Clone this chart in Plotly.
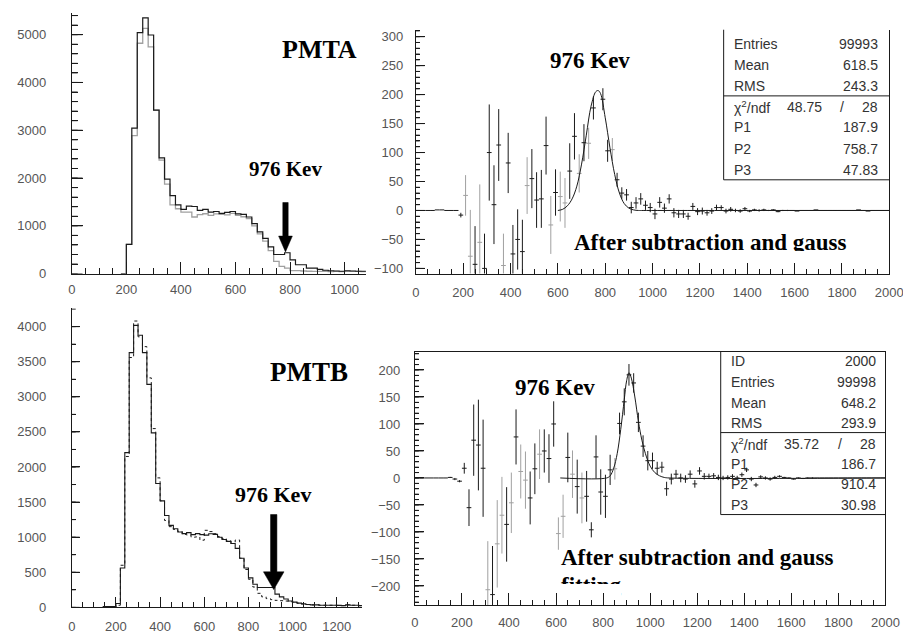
import plotly.graph_objects as go

W, H = 911, 636

# ---------------- data ----------------
p1_bin_lo = list(range(180, 1061, 20))
p1_black = [0, 613, 3044, 5041, 5351, 4993, 3423, 2424, 1977, 1632,
            1439, 1343, 1412, 1405, 1322, 1343, 1288, 1300, 1260, 1280,
            1300, 1250, 1240, 1185, 1047, 874, 736, 560, 400, 400,
            437, 289, 186, 186, 117, 117, 90, 70, 60, 55,
            50, 60, 55, 50, 50]
p1_gray = [0, 613, 2886, 4821, 5131, 4745, 3423, 2376, 1873, 1439,
           1357, 1288, 1288, 1185, 1233, 1253, 1219, 1250, 1240, 1230,
           1260, 1220, 1190, 1150, 1000, 830, 680, 480, 255, 152,
           117, 62, 62, 55, 50, 48, 45, 50, 40, 45,
           40, 50, 45, 45, 40]

p3_bin_lo = list(range(140, 1301, 20))
p3_solid = [10, 10, 10, 56, 560, 2205, 3630, 4018, 3878, 3630,
            3177, 2486, 1766, 1518, 1308, 1168, 1121, 1074, 1051, 1065,
            1037, 1051, 1037, 1030, 1050, 1040, 1000, 967, 940, 910,
            840, 700, 560, 420, 330, 283, 283, 283, 283, 189,
            150, 120, 90, 75, 60, 50, 40, 35, 35, 30,
            30, 30, 30, 28, 25, 35, 30, 30, 25]
p3_dashed = [0, 0, 0, 30, 600, 2150, 3560, 4080, 3855, 3715,
             3270, 2547, 1845, 1518, 1238, 1150, 1110, 1080, 1040, 1030,
             1000, 1004, 957, 1098, 1080, 1050, 1010, 980, 950, 930,
             960, 700, 540, 400, 290, 200, 150, 125, 110, 100,
             95, 90, 80, 70, 60, 50, 40, 35, 35, 30,
             30, 30, 30, 28, 25, 35, 30, 30, 25]

p2_centers = list(range(10, 2000, 20))
p2_vals = [0, 0, 0, 0, 1, 1, 0, 0, 0,
           -8, 26, -79, -93, -55, -100, 100, 10, 113, -95,
           82, -75, -50, -71, 43, 55, 18, 20, 112, -25,
           31, 24, 13, 68, 128, 64, 117, 116, 177, None,
           192, 103, 105, 53, 30, 27, 5, 13, 20, 9,
           5, -6, 14, 4, 20, -4, -6, -6, -10, 7,
           -2, -1, -4, -1, 5, 5, -1, 2, 0, -1,
           3, -1, 1, 0, 1, 0, 1, -2, 0, 0,
           0, -1, 0, 0, 0, 1, 0, 0, 0, 0,
           0, 0, 0, 0, 1, 0, -1, 0, 0, 0, 0]
p2_errs = [0, 0, 0, 0, 0, 0, 0, 0, 0,
           4, 35, 80, 66, 100, 60, 83, 68, 62, 55,
           52, 50, 52, 55, 49, 51, 48, 50, 50, 50,
           40, 43, 43, 48, 40, 33, 32, 27, 20, 0,
           19, 19, 20, 12, 10, 10, 10, 10, 10, 8,
           8, 9, 9, 8, 8, 8, 7, 7, 6, 6,
           6, 6, 5, 5, 5, 4, 4, 4, 3, 3,
           3, 2, 2, 2, 2, 1, 1, 1, 1, 1,
           0, 0, 0, 0, 0, 0, 0, 0, 0, 0,
           0, 0, 0, 0, 0, 0, 0, 0, 0, 0, 0]
p2_gray_bins = [210, 230, 270, 370, 470, 570, 610, 630, 690, 730, 830]
p2_fit_x = [600, 620, 640, 660, 680, 700, 720, 740, 760, 770, 780, 800,
            820, 840, 860, 880, 900, 920, 940, 960, 2000]
p2_fit_y = [0, 2, 8, 20, 42, 80, 130, 180, 205, 207, 202, 160,
            108, 62, 30, 12, 4, 1, 0, 0, 0]

p4_centers = list(range(10, 2000, 20))
p4_vals = [0, 0, 0, 0, 0, 0, 0, 1, -2, -6,
           18, -55, 70, 61, 18, -207, -216, -122, -69, -86,
           -46, 76, 12, -4, -37, 17, 44, 50, 36, 100,
           -103, -71, 38, 7, -16, -37, -34, -96, 39, -26,
           -34, 15, 17, 101, 141, 191, 176, 103, 59, 32,
           32, 18, 20, -20, -2, 7, 0, -2, 7, -11,
           13, 3, 3, 4, 1, 0, 1, 3, 0, 6,
           15, -2, -13, 2, 0, -2, 1, 3, 1, 0,
           -2, 0, -1, 0, 0, 0, 0, 0, 0, 0,
           0, 0, 0, 0, 0, 0, 0, 0, 0, 0]
p4_errs = [0, 0, 0, 0, 0, 0, 0, 1, 2, 2,
           10, 34, 66, 84, 90, 90, 90, 81, 71, 69,
           56, 51, 50, 53, 49, 47, 46, 40, 45, 42,
           30, 40, 46, 44, 50, 47, 47, 14, 40, 42,
           40, 28, 20, 20, 25, 20, 18, 18, 20, 18,
           15, 12, 10, 13, 10, 8, 8, 7, 7, 7,
           7, 6, 5, 5, 5, 4, 4, 4, 4, 4,
           4, 4, 4, 3, 3, 3, 3, 2, 1, 1,
           1, 1, 1, 1, 1, 0, 0, 0, 0, 0,
           0, 0, 0, 0, 0, 0, 0, 0, 0, 0]
p4_gray_bins = [310, 350, 370, 410, 450, 470, 530, 610, 630, 670, 710, 850]
p4_fit_x = [618, 815, 830, 845, 860, 875, 890, 900, 910, 920, 935, 950,
            965, 980, 1000, 1020, 1040, 1060, 1080, 2000]
p4_fit_y = [0, 0, 4, 18, 45, 90, 145, 180, 195, 185, 150, 105,
            70, 45, 22, 10, 4, 1, 0, 0]

p2_stat_names = ["Entries", "Mean", "RMS", "χ<sup>2</sup>/ndf", "P1", "P2", "P3"]
p2_stat_vals = ["99993", "618.5", "243.3", "28", "187.9", "758.7", "47.83"]
p2_chi2 = "48.75"
p4_stat_names = ["ID", "Entries", "Mean", "RMS", "χ<sup>2</sup>/ndf", "P1", "P2", "P3"]
p4_stat_vals = ["2000", "99998", "648.2", "293.9", "28", "186.7", "910.4", "30.98"]
p4_chi2 = "35.72"

# ---------------- helpers ----------------
def px(x):
    return x / W


def py(y):
    return 1 - y / H


BLK = "#1a1a1a"
GRY = "#a0a0a0"
TICKFONT = dict(family="Liberation Sans", size=13, color="#555")


def hist_xy(lo, vals):
    xs = list(lo) + [lo[-1] + 20]
    ys = list(vals) + [vals[-1]]
    return xs, ys


def eb_traces(centers, vals, errs, gray_bins, xa, ya):
    out = []
    for col, want_gray in ((BLK, False), (GRY, True)):
        xs, ys, es = [], [], []
        for c, v, e in zip(centers, vals, errs):
            if v is None:
                continue
            if (c in gray_bins) == want_gray:
                xs.append(c)
                ys.append(v)
                es.append(e)
        out.append(go.Scatter(
            x=xs, y=ys, mode="markers", marker=dict(size=1, color="rgba(0,0,0,0)"),
            error_y=dict(type="data", array=es, visible=True, width=0, thickness=1, color=col),
            error_x=dict(type="constant", value=10, visible=True, width=0, thickness=1, color=col),
            xaxis=xa, yaxis=ya, showlegend=False, hoverinfo="skip"))
    return out


fig = go.Figure()

x, y = hist_xy(p1_bin_lo, p1_gray)
fig.add_trace(go.Scatter(x=x, y=y, mode="lines", line=dict(shape="hv", color=GRY, width=1.3),
                         xaxis="x", yaxis="y", showlegend=False, hoverinfo="skip"))
x, y = hist_xy(p1_bin_lo, p1_black)
fig.add_trace(go.Scatter(x=x, y=y, mode="lines", line=dict(shape="hv", color=BLK, width=1.2),
                         xaxis="x", yaxis="y", showlegend=False, hoverinfo="skip"))

x, y = hist_xy(p3_bin_lo, p3_dashed)
fig.add_trace(go.Scatter(x=x, y=y, mode="lines", line=dict(shape="hv", color=BLK, width=1, dash="3px,3px"),
                         xaxis="x3", yaxis="y3", showlegend=False, hoverinfo="skip"))
x, y = hist_xy(p3_bin_lo, p3_solid)
fig.add_trace(go.Scatter(x=x, y=y, mode="lines", line=dict(shape="hv", color=BLK, width=1.1),
                         xaxis="x3", yaxis="y3", showlegend=False, hoverinfo="skip"))

for t in eb_traces(p2_centers, p2_vals, p2_errs, p2_gray_bins, "x2", "y2"):
    fig.add_trace(t)
fig.add_trace(go.Scatter(x=p2_fit_x, y=p2_fit_y, mode="lines", line=dict(color=BLK, width=1, shape="spline"),
                         xaxis="x2", yaxis="y2", showlegend=False, hoverinfo="skip"))

for t in eb_traces(p4_centers, p4_vals, p4_errs, p4_gray_bins, "x4", "y4"):
    fig.add_trace(t)
fig.add_trace(go.Scatter(x=p4_fit_x, y=p4_fit_y, mode="lines", line=dict(color=BLK, width=1, shape="spline"),
                         xaxis="x4", yaxis="y4", showlegend=False, hoverinfo="skip"))


def axis(dom, rng, dtick, minor_dtick, ticklen, mticklen, standoff, mirror=False, anchor=None):
    return dict(domain=dom, range=rng, dtick=dtick, tick0=0, showline=True, linecolor=BLK, linewidth=1,
                mirror=mirror, ticks="inside", ticklen=ticklen, tickwidth=1, tickcolor=BLK,
                minor=dict(dtick=minor_dtick, ticks="inside", ticklen=mticklen, tickcolor=BLK, tickwidth=1,
                           showgrid=False),
                showgrid=False, zeroline=False, tickfont=TICKFONT, anchor=anchor, fixedrange=True,
                ticklabelstandoff=standoff)


PANEL_X = {"x": (61, 361), "x2": (412, 895), "x3": (61, 357), "x4": (411, 891)}
Y_RANGES = {"y": (0, 5455), "y2": (-109, 312), "y3": (0, 4263), "y4": (-236, 234)}

layout = dict(
    width=W, height=H, margin=dict(l=0, r=0, t=0, b=0),
    paper_bgcolor="white", plot_bgcolor="rgba(0,0,0,0)", showlegend=False,
    xaxis=axis([px(61), px(361)], [0, 1078], 200, 50, 12, 6, 4, anchor="y"),
    yaxis=axis([py(269), py(5)], list(Y_RANGES["y"]), 1000, 200, 11, 6, 22, anchor="x"),
    xaxis2=axis([px(412), px(895)], [0, 2000], 200, 50, 11, 5, 7, anchor="y2"),
    yaxis2=axis([py(269), py(22)], list(Y_RANGES["y2"]), 50, 10, 9, 4, 9, mirror=True, anchor="x2"),
    xaxis3=axis([px(61), px(357)], [0, 1314], 200, 50, 10, 5, 7, anchor="y3"),
    yaxis3=axis([py(607), py(304)], list(Y_RANGES["y3"]), 500, 250, 8, 4, 22, anchor="x3"),
    xaxis4=axis([px(411), px(891)], [0, 2000], 200, 50, 12, 5, 5, mirror=True, anchor="y4"),
    yaxis4=axis([py(605), py(348)], list(Y_RANGES["y4"]), 50, 10, 9, 4, 11, mirror=True, anchor="x4"),
)
fig.update_layout(**layout)

ann = []


def label(xp, yp, text, size, xanchor="center", family="Liberation Serif", color="black", bold=True):
    ann.append(dict(x=px(xp), y=py(yp), xref="paper", yref="paper", text=("<b>%s</b>" % text) if bold else text,
                    showarrow=False, xanchor=xanchor, yanchor="middle",
                    font=dict(family=family, size=size, color=color)))


def cover(x0, y0, x1, y1):
    # white box hiding the part of a caption that the original plot clips away
    ann.append(dict(x=px(x0), y=py(y0), xref="paper", yref="paper", text=" ", showarrow=False,
                    xanchor="left", yanchor="top", width=x1 - x0, height=y1 - y0, borderpad=0,
                    borderwidth=0, bgcolor="white", font=dict(size=1)))


label(314, 42, "PMTA", 26)
label(279, 163, "976 Kev", 21)
label(590, 53, "976 Kev", 23)
label(303, 369, "PMTB", 27)
label(266, 493, "976 Kev", 22)
label(554, 384, "976 Kev", 23)

label(571, 237, "After subtraction and gauss", 23, xanchor="left")
label(558, 557, "After subtraction and gauss", 23, xanchor="left")
label(558, 585, "fitting", 23, xanchor="left")
cover(565, 246, 850, 252)
cover(555, 583.5, 621, 592.5)
cover(606, 592.5, 621, 599)

SF = "Liberation Sans"
SC = "#333"
p2_rows = [36, 58, 79, 100, 121, 143, 164]
for name, val, yy in zip(p2_stat_names, p2_stat_vals, p2_rows):
    label(735, yy, name, 14, xanchor="left", family=SF, color=SC, bold=False)
    label(886, yy, val, 14, xanchor="right", family=SF, color=SC, bold=False)
label(828, 100, p2_chi2, 14, xanchor="right", family=SF, color=SC, bold=False)
label(847, 100, "/", 14, family=SF, color=SC, bold=False)

p4_rows = [358, 379, 400, 420, 442, 462, 482, 503]
for name, val, yy in zip(p4_stat_names, p4_stat_vals, p4_rows):
    label(731, yy, name, 14, xanchor="left", family=SF, color=SC, bold=False)
    label(883, yy, val, 14, xanchor="right", family=SF, color=SC, bold=False)
label(825, 442, p4_chi2, 14, xanchor="right", family=SF, color=SC, bold=False)
label(845, 442, "/", 14, family=SF, color=SC, bold=False)

fig.update_layout(annotations=ann)

shapes = []


def seg(x0, y0, x1, y1, w=1):
    shapes.append(dict(type="line", xref="paper", yref="paper", x0=px(x0), y0=py(y0), x1=px(x1), y1=py(y1),
                       line=dict(color=BLK, width=w)))


seg(726, 22, 726, 174)
seg(726, 174, 895, 174)
seg(726, 89, 895, 89)
seg(723, 348, 723, 513)
seg(723, 513, 891, 513)
seg(723, 430, 891, 430)


# y-axis inside tick marks, placed on the axis scale (value -> yref data units)
def yticks(xa, ya, step, length_px):
    lo, hi = Y_RANGES[ya]
    width_px = PANEL_X[xa][1] - PANEL_X[xa][0]
    v = (int(lo // step) + 1) * step if lo % step else lo
    while v <= hi:
        shapes.append(dict(type="line", xref=xa + " domain", yref=ya, x0=0, x1=length_px / width_px,
                           y0=v, y1=v, line=dict(color=BLK, width=1)))
        v += step


yticks("x", "y", 1000, 11)
yticks("x", "y", 200, 6)
yticks("x2", "y2", 50, 9)
yticks("x2", "y2", 10, 4)
yticks("x3", "y3", 500, 8)
yticks("x3", "y3", 250, 4)
yticks("x4", "y4", 50, 9)
yticks("x4", "y4", 10, 4)


def arrow(cx, top, head_top, tip, shaft_w, head_w):
    pts = [(cx - shaft_w / 2, top), (cx + shaft_w / 2, top), (cx + shaft_w / 2, head_top),
           (cx + head_w / 2, head_top), (cx, tip), (cx - head_w / 2, head_top), (cx - shaft_w / 2, head_top)]
    path = "M " + " L ".join("%.5f,%.5f" % (px(a), py(b)) for a, b in pts) + " Z"
    shapes.append(dict(type="path", xref="paper", yref="paper", path=path, fillcolor="black",
                       line=dict(color="black", width=0.5)))


arrow(279, 197, 231, 247, 5.5, 14)
arrow(267, 513, 571, 589, 6.5, 21)

fig.update_layout(shapes=shapes)

fig.write_html("out.html")
